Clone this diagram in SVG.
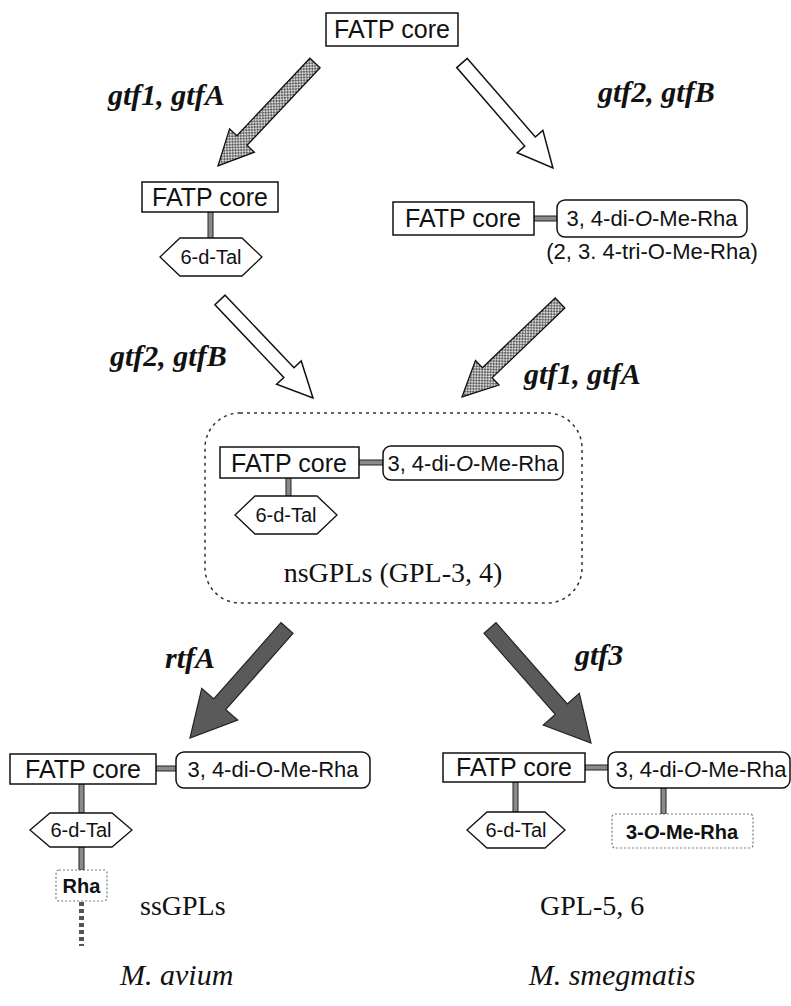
<svg xmlns="http://www.w3.org/2000/svg" width="791" height="1006" viewBox="0 0 791 1006">
<defs>
<pattern id="hatch" patternUnits="userSpaceOnUse" width="4" height="4">
<rect width="4" height="4" fill="#d4d4d4"/>
<path d="M0,0 L4,4 M4,0 L0,4" stroke="#333" stroke-width="0.7"/>
</pattern>
<style>
.box{fill:#fff;stroke:#111;stroke-width:1.5}
.dbox{fill:#fff;stroke:#777;stroke-width:1.2;stroke-dasharray:2 2}
.link{fill:#8a8a8a;stroke:#222;stroke-width:1}
.core{font-family:"Liberation Sans",Arial,sans-serif;font-size:25px;text-anchor:middle;fill:#111}
.sug{font-family:"Liberation Sans",Arial,sans-serif;font-size:22px;text-anchor:middle;fill:#111}
.tal{font-family:"Liberation Sans",Arial,sans-serif;font-size:20px;text-anchor:middle;fill:#111}
.bold{font-family:"Liberation Sans",Arial,sans-serif;font-size:20px;font-weight:bold;text-anchor:middle;fill:#111}
.gene{font-family:"Liberation Serif","Times New Roman",serif;font-size:30px;font-weight:bold;font-style:italic;fill:#111}
.lbl{font-family:"Liberation Serif","Times New Roman",serif;font-size:28px;fill:#111}
.sp{font-family:"Liberation Serif","Times New Roman",serif;font-size:30px;font-style:italic;fill:#111}
.hatch{fill:url(#hatch);stroke:#111;stroke-width:1.3}
.white{fill:#fff;stroke:#111;stroke-width:1.5}
.dark{fill:#5a5a5a;stroke:#222;stroke-width:1.2}
.hex{fill:#fff;stroke:#111;stroke-width:1.3}
.frame{fill:none;stroke:#333;stroke-width:1.5;stroke-dasharray:3 4}
.tail{stroke:#555;stroke-width:5;stroke-dasharray:4 3}
</style>
</defs>
<rect width="791" height="1006" fill="#fff"/>

<g id="connectors">
<polygon class="hatch" transform="translate(315,63) rotate(133.3)" points="0,-7 106.5,-7 106.5,-17 141.5,0 106.5,17 106.5,7 0,7"/>
<polygon class="white" transform="translate(462,63) rotate(49.1)" points="0,-7 103.9,-7 103.9,-17 138.9,0 103.9,17 103.9,7 0,7"/>
<polygon class="white" transform="translate(220,300) rotate(46.5)" points="0,-7 100.1,-7 100.1,-17 135.1,0 100.1,17 100.1,7 0,7"/>
<polygon class="hatch" transform="translate(560,303) rotate(136.2)" points="0,-7 100.8,-7 100.8,-17 135.8,0 100.8,17 100.8,7 0,7"/>
<polygon class="dark" transform="translate(287,628) rotate(131.4)" points="0,-8 101.7,-8 101.7,-24 146.7,0 101.7,24 101.7,8 0,8"/>
<polygon class="dark" transform="translate(490,628) rotate(48.7)" points="0,-8 108,-8 108,-24 153,0 108,24 108,8 0,8"/>
<text class="gene" x="108" y="105">gtf1, gtfA</text>
<text class="gene" x="598" y="102">gtf2, gtfB</text>
<text class="gene" x="110" y="366">gtf2, gtfB</text>
<text class="gene" x="524" y="384">gtf1, gtfA</text>
<text class="gene" x="165" y="668">rtfA</text>
<text class="gene" x="575" y="665">gtf3</text>
</g>

<g id="n-top">
<rect class="box" x="326" y="13" width="132" height="33"/>
<text class="core" x="392" y="38">FATP core</text>
</g>

<g id="n-left2">
<rect class="link" x="208" y="212" width="5" height="26"/>
<rect class="box" x="142" y="182" width="136" height="30"/>
<text class="core" x="210" y="206">FATP core</text>
<polygon class="hex" points="160,257 180,238 242,238 262,257 242,276 180,276"/>
<text class="tal" x="211" y="264">6-d-Tal</text>
</g>

<g id="n-right2">
<rect class="link" x="534" y="216" width="23" height="5"/>
<rect class="box" x="393" y="202" width="141" height="33"/>
<text class="core" x="463" y="227">FATP core</text>
<rect class="box" x="557" y="200" width="190" height="37" rx="8"/>
<text class="sug" x="652" y="226">3, 4-di-<tspan font-style="italic">O</tspan>-Me-Rha</text>
<text class="sug" x="652" y="259">(2, 3. 4-tri-O-Me-Rha)</text>
</g>

<g id="n-middle">
<rect class="frame" x="205" y="413" width="377" height="190" rx="35"/>
<rect class="link" x="359" y="460" width="24" height="5"/>
<rect class="link" x="286" y="478" width="5" height="18"/>
<rect class="box" x="220" y="447" width="139" height="31"/>
<text class="core" x="289" y="472">FATP core</text>
<rect class="box" x="383" y="446" width="180" height="34" rx="8"/>
<text class="sug" x="473" y="471">3, 4-di-<tspan font-style="italic">O</tspan>-Me-Rha</text>
<polygon class="hex" points="235,515 255,496 317,496 337,515 317,534 255,534"/>
<text class="tal" x="286" y="522">6-d-Tal</text>
<text class="lbl" x="393" y="582" text-anchor="middle" font-size="25">nsGPLs (GPL-3, 4)</text>
</g>

<g id="n-avium">
<rect class="link" x="156" y="766" width="20" height="5"/>
<rect class="link" x="79" y="784" width="5" height="29"/>
<rect class="link" x="79" y="847" width="5" height="23"/>
<line class="tail" x1="81.5" y1="902" x2="81.5" y2="946"/>
<rect class="box" x="10" y="754" width="146" height="30"/>
<text class="core" x="83" y="778">FATP core</text>
<rect class="box" x="176" y="752" width="194" height="36" rx="8"/>
<text class="sug" x="273" y="777">3, 4-di-O-Me-Rha</text>
<polygon class="hex" points="30,830 50,813 112,813 132,830 112,847 50,847"/>
<text class="tal" x="81" y="837">6-d-Tal</text>
<rect class="dbox" x="56" y="870" width="51" height="31" rx="3"/>
<text class="bold" x="81.5" y="893" font-size="18">Rha</text>
<text class="lbl" x="140" y="915">ssGPLs</text>
<text class="sp" x="120" y="985">M. avium</text>
</g>

<g id="n-smeg">
<rect class="link" x="585" y="765" width="23" height="5"/>
<rect class="link" x="513" y="782" width="5" height="30"/>
<rect class="link" x="661" y="788" width="5" height="26"/>
<rect class="box" x="443" y="753" width="142" height="29"/>
<text class="core" x="514" y="776">FATP core</text>
<rect class="box" x="608" y="752" width="182" height="36" rx="8"/>
<text class="sug" x="701" y="777">3, 4-di-<tspan font-style="italic">O</tspan>-Me-Rha</text>
<polygon class="hex" points="467,830 487,812 545,812 565,830 545,848 487,848"/>
<text class="tal" x="516" y="837">6-d-Tal</text>
<rect class="dbox" x="612" y="814" width="141" height="34" rx="3"/>
<text class="bold" x="682" y="839">3-<tspan font-style="italic">O</tspan>-Me-Rha</text>
<text class="lbl" x="540" y="915">GPL-5, 6</text>
<text class="sp" x="612" y="985" text-anchor="middle">M. smegmatis</text>
</g>
</svg>
